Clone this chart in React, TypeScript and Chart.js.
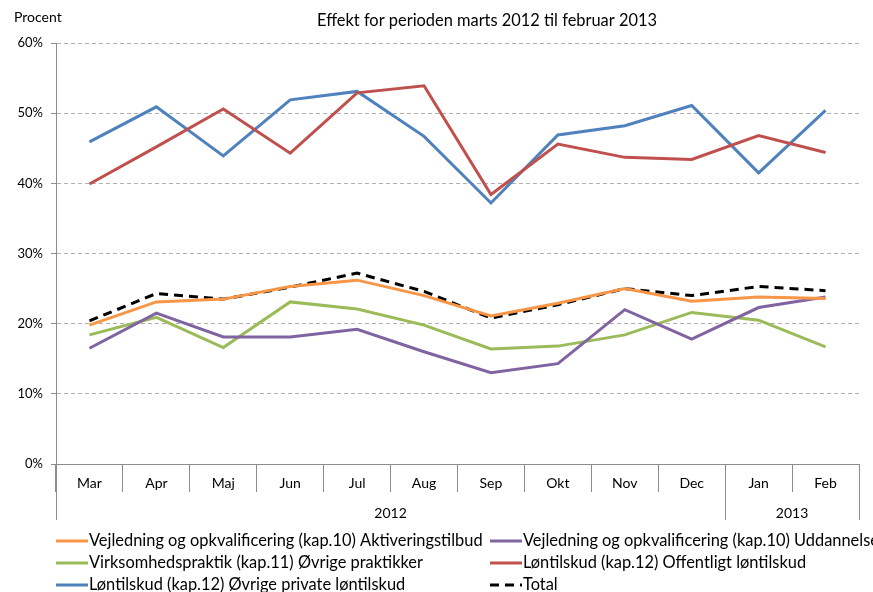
import React, { useEffect, useRef } from "react";
import { Chart, registerables } from "chart.js";
Chart.register(...registerables);

const months = ["Mar", "Apr", "Maj", "Jun", "Jul", "Aug", "Sep", "Okt", "Nov", "Dec", "Jan", "Feb"];
const yearLabels = ["2012", "2013"];
const yearSpans = [10, 2];

const seriesNames = [
  "Vejledning og opkvalificering (kap.10) Aktiveringstilbud",
  "Vejledning og opkvalificering (kap.10) Uddannelse",
  "Virksomhedspraktik (kap.11) Øvrige praktikker",
  "Løntilskud (kap.12) Offentligt løntilskud",
  "Løntilskud (kap.12) Øvrige private løntilskud",
  "Total",
];

const aktivering = [19.8, 23.1, 23.5, 25.3, 26.2, 24.0, 21.1, 22.9, 25.0, 23.2, 23.8, 23.6];
const uddannelse = [16.5, 21.5, 18.1, 18.1, 19.2, 16.0, 13.0, 14.3, 22.0, 17.8, 22.3, 23.8];
const praktik = [18.4, 20.9, 16.6, 23.1, 22.1, 19.8, 16.4, 16.8, 18.4, 21.6, 20.5, 16.7];
const offentlig = [39.9, 45.2, 50.6, 44.3, 52.9, 53.9, 38.4, 45.6, 43.7, 43.4, 46.8, 44.4];
const privat = [45.9, 50.9, 43.9, 51.9, 53.1, 46.7, 37.2, 46.9, 48.2, 51.1, 41.5, 50.4];
const total = [20.4, 24.3, 23.5, 25.2, 27.2, 24.6, 20.8, 22.7, 25.0, 24.0, 25.3, 24.7];

const seriesValues = [aktivering, uddannelse, praktik, offentlig, privat, total];
const seriesColors = ["#F79646", "#8064A2", "#9BBB59", "#C0504D", "#4F81BD", "#000000"];

const FONT = "Lato, 'DejaVu Sans', sans-serif";
const AXIS = "#8c8c8c";

const overlay = {
  id: "overlay",
  afterDraw(chart: any) {
    const ctx = chart.ctx;
    const x = chart.scales.x;
    const area = chart.chartArea;
    const half = (x.getPixelForValue(1) - x.getPixelForValue(0)) / 2;
    ctx.save();
    // titles
    ctx.fillStyle = "#000";
    ctx.textBaseline = "middle";
    ctx.font = `14px ${FONT}`;
    ctx.textAlign = "left";
    ctx.fillText("Procent", 14, 17);
    ctx.font = `16.4px ${FONT}`;
    ctx.textAlign = "center";
    ctx.fillText("Effekt for perioden marts 2012 til februar 2013", 487, 21);

    // year row
    const yBottom = area.bottom + 56;
    ctx.strokeStyle = AXIS;
    ctx.lineWidth = 1;
    let start = 0;
    ctx.font = `14px ${FONT}`;
    for (let g = 0; g < yearLabels.length; g++) {
      const end = start + yearSpans[g] - 1;
      const left = x.getPixelForValue(start) - half;
      const right = x.getPixelForValue(end) + half;
      ctx.beginPath();
      ctx.moveTo(Math.round(left) + 0.5, area.bottom);
      ctx.lineTo(Math.round(left) + 0.5, yBottom);
      ctx.moveTo(Math.round(right) + 0.5, area.bottom);
      ctx.lineTo(Math.round(right) + 0.5, yBottom);
      ctx.stroke();
      ctx.fillStyle = "#000";
      ctx.fillText(yearLabels[g], (left + right) / 2, area.bottom + 49);
      start = end + 1;
    }

    // legend
    const colX = [56, 490];
    const rowY = [541, 563, 585];
    ctx.font = `16.4px ${FONT}`;
    ctx.textAlign = "left";
    chart.data.datasets.forEach((ds: any, i: number) => {
      const cx = colX[i % 2];
      const cy = rowY[Math.floor(i / 2)];
      ctx.strokeStyle = ds.borderColor;
      ctx.lineWidth = 3;
      ctx.setLineDash(ds.borderDash || []);
      ctx.beginPath();
      ctx.moveTo(cx, cy);
      ctx.lineTo(cx + 32, cy);
      ctx.stroke();
      ctx.setLineDash([]);
      ctx.fillStyle = "#000";
      ctx.fillText(ds.label, cx + 33, cy);
    });
    ctx.restore();
  },
};

export default function App() {
  const ref = useRef<HTMLCanvasElement>(null);
  useEffect(() => {
    document.body.style.margin = "0";
    const datasets = seriesNames.map((name, i) => ({
      label: name,
      data: seriesValues[i],
      borderColor: seriesColors[i],
      backgroundColor: seriesColors[i],
      borderWidth: 3,
      borderDash: i === 5 ? [9, 6] : [],
      pointRadius: 0,
      tension: 0,
      fill: false,
    }));
    const chart = new Chart(ref.current!, {
      type: "line",
      data: { labels: months, datasets },
      options: {
        animation: false,
        responsive: false,
        layout: { padding: { top: 43, bottom: 72, right: 14, left: 0 } },
        plugins: { legend: { display: false }, title: { display: false }, tooltip: { enabled: false } },
        scales: {
          x: {
            offset: true,
            grid: { offset: true, drawOnChartArea: false, drawTicks: true, tickLength: 28, color: AXIS, lineWidth: 1 },
            border: { color: AXIS, width: 1 },
            ticks: { padding: -17, color: "#000", font: { size: 14, family: FONT }, maxRotation: 0, autoSkip: false },
            afterFit: (s: any) => { s.height = 56; },
          },
          y: {
            min: 0,
            max: 60,
            ticks: { stepSize: 10, callback: (v: any) => v + "%", padding: 8, color: "#000", font: { size: 13, family: FONT } },
            grid: { color: "#b0b0b0", lineWidth: 1, tickLength: 5, tickColor: AXIS, tickBorderDash: [] },
            border: { color: AXIS, width: 1, dash: [4, 3] },
            afterFit: (s: any) => { s.width = 56; },
          },
        },
      },
      plugins: [overlay],
    });
    return () => chart.destroy();
  }, []);
  return (
    <div style={{ width: 873, height: 592, background: "#fff" }}>
      <canvas ref={ref} width={873} height={592} style={{ display: "block" }} />
    </div>
  );
}
